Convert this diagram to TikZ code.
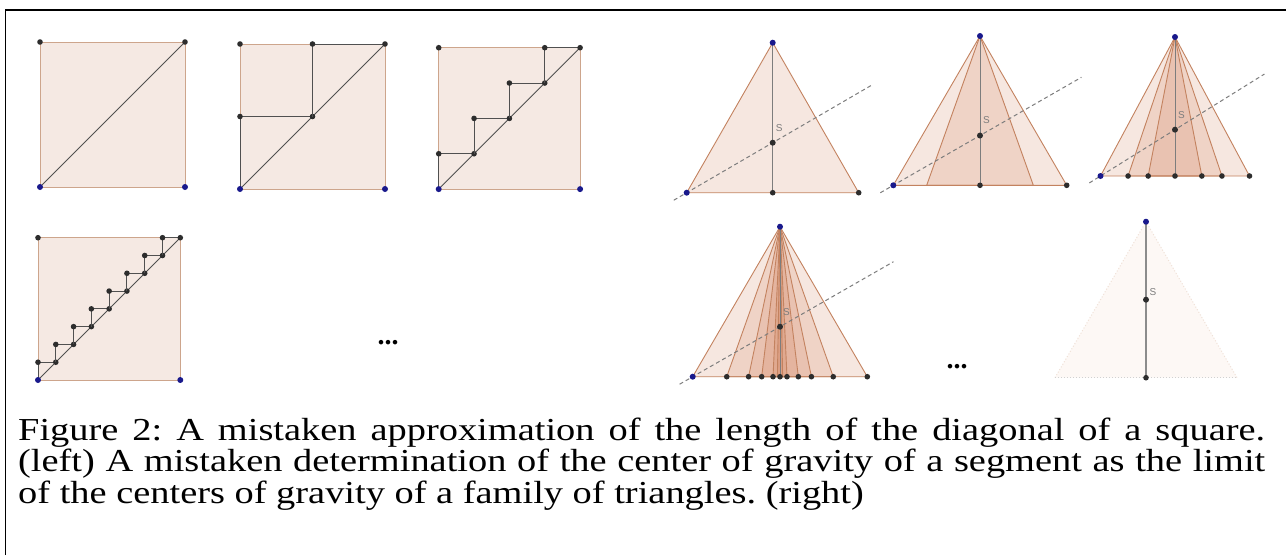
\documentclass[tikz,border=0pt]{standalone}
\usepackage{fontspec}
\setmainfont{Liberation Serif}
\newfontfamily\capfont{Liberation Serif}[FakeStretch=1.2]
\newfontfamily\lblfont{Liberation Sans}
\usetikzlibrary{calc}
\frenchspacing
\definecolor{sqfill}{RGB}{245,233,227}
\definecolor{sqedge}{RGB}{205,165,140}
\definecolor{stair}{RGB}{80,80,80}
\definecolor{dotc}{RGB}{45,45,45}
\definecolor{bluedot}{RGB}{25,25,140}
\definecolor{trifill}{RGB}{205,115,75}
\definecolor{triedge}{RGB}{195,130,95}
\definecolor{medc}{RGB}{125,125,125}
\definecolor{dashc}{RGB}{125,125,125}
\definecolor{faintfill}{RGB}{253,248,245}
\definecolor{faintedge}{RGB}{240,225,215}
\tikzset{
  sq/.style={fill=sqfill, draw=sqedge, line width=0.9pt},
  stairline/.style={draw=stair, line width=0.9pt},
  diagline/.style={draw=stair, line width=0.9pt},
  tri/.style={fill=trifill, fill opacity=0.17, draw=triedge, line width=0.9pt, line join=round},
  median/.style={draw=medc, line width=1pt},
  guide/.style={draw=dashc, dashed, dash pattern=on 4pt off 3pt, line width=1pt},
  slabel/.style={font=\lblfont\fontsize{10}{10}\selectfont, text=medc, inner sep=0pt},
  ellip/.style={font=\bfseries\fontsize{28}{28}\selectfont, inner sep=0pt},
  capline/.style={anchor=base west, inner sep=0pt, font=\capfont\fontsize{32}{32}\selectfont},
}
\newcommand\dk[1]{\fill[dotc] (#1) circle (2.8pt);}
\newcommand\db[1]{\fill[bluedot] (#1) circle (3pt);}
% staircase square: x0, y0 (top-left), size, steps
\newcommand\stairsq[4]{%
  \filldraw[sq] (#1,#2) rectangle ({#1+#3},{#2+#3});
  \draw[diagline] (#1,{#2+#3}) -- ({#1+#3},#2);
  \foreach \i in {1,...,#4}{%
    \pgfmathsetmacro\xa{#1+(\i-1)*#3/#4}%
    \pgfmathsetmacro\xb{#1+\i*#3/#4}%
    \pgfmathsetmacro\yy{#2+#3-\i*#3/#4}%
    \pgfmathsetmacro\yb{#2+#3-(\i-1)*#3/#4}%
    \draw[stairline] (\xa,\yb) -- (\xa,\yy) -- (\xb,\yy);
    \fill[dotc] (\xa,\yy) circle (2.8pt);
    \fill[dotc] (\xb,\yy) circle (2.8pt);
  }
  \fill[dotc] (#1,#2) circle (2.8pt);
  \fill[bluedot] (#1,{#2+#3}) circle (3pt);
  \fill[bluedot] ({#1+#3},{#2+#3}) circle (3pt);
}
% pyramid: name, apex x, apex y, base y, half width, fractions, dot fractions, guide end
\newcommand\pyramid[8]{%
  \coordinate (#1A) at (#2,#3);
  \coordinate (#1L) at ({#2-#5},#4);
  \coordinate (#1R) at ({#2+#5},#4);
  \coordinate (#1M) at (#2,#4);
  \coordinate (#1S) at (#2,{#4-(#4-#3)/3});
  \foreach \f in {#6}{%
    \filldraw[tri] (#1A) -- ({#2-\f*#5},#4) -- ({#2+\f*#5},#4) -- cycle;
  }
  \draw[median] (#1A) -- (#1M);
  \draw[guide] ($(#1L)!-0.15!(#1S)$) -- ($(#1L)!#8!(#1S)$);
  \foreach \f in {#7}{%
    \fill[dotc] ({#2-\f*#5},#4) circle (2.8pt);
    \fill[dotc] ({#2+\f*#5},#4) circle (2.8pt);
  }
  \fill[dotc] (#1M) circle (2.8pt);
  \fill[dotc] (#1R) circle (2.8pt);
  \fill[dotc] (#1S) circle (3pt);
  \db{#1A}
  \db{#1L}
  \node[slabel] (#1lab) at ($(#1S)+(6.5,-15)$) {S};
}
\begin{document}
\begin{tikzpicture}[x=1pt,y=-1pt]
\useasboundingbox (0,0) rectangle (1286,555);
\fill[white] (0,0) rectangle (1286,555);
% frame
\coordinate (fb) at (5.5,555);
\coordinate (ft) at (5.5,10);
\coordinate (fr) at (1286,10);
\draw[line width=1.3pt] (fb) -- (ft) -- (fr);
% square 1
\coordinate (s1a) at (40,187);
\coordinate (s1b) at (185,187);
\coordinate (s1c) at (185,42);
\coordinate (s1d) at (40,42);
\filldraw[sq] (s1a) rectangle (s1c);
\draw[diagline] (s1a) -- (s1c);
\dk{s1d}\dk{s1c}\db{s1a}\db{s1b}
% squares 2-4
\stairsq{240}{44}{145}{2}
\stairsq{438.7}{47.7}{141.4}{4}
\stairsq{38}{237.7}{142.3}{8}
\node[ellip] (dots1) at (388,343) {...};
% pyramids
\pyramid{t1}{772.7}{42.7}{192.7}{86}{1}{}{2.15}
\pyramid{t2}{980}{36}{185.3}{86.7}{1,0.615}{}{2.17}
\pyramid{t3}{1175}{37}{176}{74.5}{1,0.63,0.36}{0.63,0.36}{2.2}
\pyramid{t4}{780}{226.7}{376.7}{87.3}{1,0.61,0.36,0.21,0.08,0.03}{0.61,0.36,0.21,0.08}{2.3}
\node[ellip] (dots2) at (957,367) {...};
% limit segment
\coordinate (t5A) at (1146,221.7);
\coordinate (t5M) at (1146,377.7);
\coordinate (t5S) at (1146,299.7);
\coordinate (t5L) at (1055,377.7);
\coordinate (t5R) at (1237,377.7);
\fill[faintfill] (t5A) -- (t5L) -- (t5R) -- cycle;
\draw[faintedge, dotted, line width=1pt] (t5L) -- (t5A) -- (t5R);
\draw[draw=black!18, dotted, line width=1pt] (t5L) -- (t5R);
\draw[draw=black!45, line width=1.6pt] (t5A) -- (t5M);
\dk{t5M}\fill[dotc] (t5S) circle (3pt);\db{t5A}
\node[slabel] (t5lab) at ($(t5S)+(7,-8)$) {S};
% caption
\node[capline] (cap1) at (18,440) {\makebox[1247pt][s]{Figure 2: A mistaken approximation of the length of the diagonal of a square.}};
\node[capline] (cap2) at (18,471.7) {\makebox[1247pt][s]{(left) A mistaken determination of the center of gravity of a segment as the limit}};
\node[capline] (cap3) at (18,503.3) {of the centers of gravity of a family of triangles. (right)};
\end{tikzpicture}
\end{document}
